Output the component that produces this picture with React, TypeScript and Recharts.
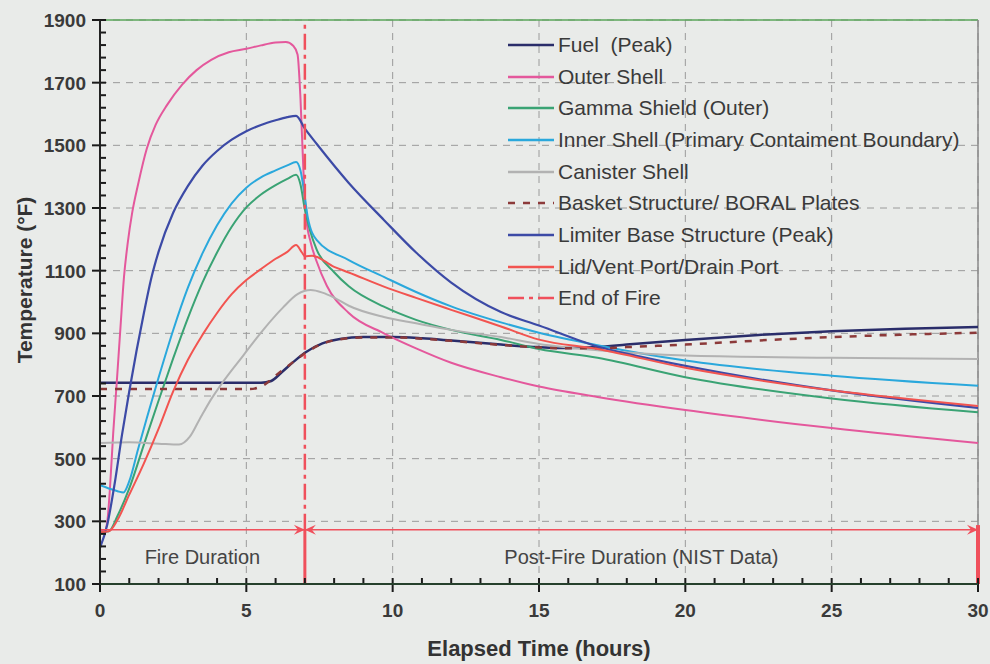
import React from "react";
import {
  LineChart,
  Line,
  XAxis,
  YAxis,
  CartesianGrid,
  Legend,
  ReferenceLine,
  ReferenceArea,
} from "recharts";

const FONT = '"Liberation Sans", Arial, sans-serif';
const RED = "#f0505c";

// [elapsed hours, temperature °F]
const fuelPeak: [number, number][] = [
  [0, 742], [5.5, 742], [5.85, 748], [6.2, 775], [6.6, 808], [7.0, 838], [7.6, 868],
  [8.2, 882], [9, 888], [10, 888], [11, 884], [12, 877], [13.7, 864], [15, 856],
  [16, 853], [17, 856], [18, 864], [20, 879], [22.5, 895], [25, 907], [27.5, 915], [30, 920],
];
const outerShell: [number, number][] = [
  [0, 275], [0.15, 268], [0.25, 300], [0.35, 420], [0.45, 580], [0.57, 740], [0.7, 920],
  [0.82, 1080], [0.95, 1190], [1.1, 1285], [1.3, 1375], [1.6, 1490], [1.9, 1565],
  [2.3, 1630], [2.8, 1693], [3.3, 1740], [3.8, 1773], [4.4, 1797], [5.0, 1808],
  [5.5, 1819], [6.0, 1828], [6.35, 1830], [6.6, 1818], [6.75, 1790], [6.85, 1650],
  [6.95, 1420], [7.05, 1265], [7.2, 1190], [7.4, 1130], [7.75, 1052], [8.5, 965],
  [9.7, 900], [10.8, 852], [12, 806], [13.7, 760], [15, 730], [17, 697], [20, 655],
  [25, 598], [30, 550],
];
const gammaShield: [number, number][] = [
  [0, 265], [0.3, 268], [0.6, 318], [1.0, 405], [1.5, 545], [2.0, 685], [2.5, 820],
  [3.0, 948], [3.5, 1062], [4.0, 1158], [4.5, 1240], [5.0, 1302], [5.5, 1343],
  [6.0, 1373], [6.4, 1393], [6.7, 1406], [6.85, 1375], [7.0, 1295], [7.17, 1230],
  [7.4, 1168], [8.0, 1095], [8.5, 1050], [9.7, 985], [10.8, 943], [12, 911],
  [13.7, 879], [15, 850], [17, 822], [20, 760], [25, 692], [30, 648],
];
const innerShell: [number, number][] = [
  [0, 415], [0.3, 405], [0.6, 396], [0.8, 392], [1.0, 428], [1.3, 530], [1.6, 630],
  [2.0, 758], [2.5, 910], [3.0, 1045], [3.5, 1155], [4.0, 1245], [4.5, 1315],
  [5.0, 1365], [5.5, 1398], [6.0, 1420], [6.4, 1436], [6.7, 1447], [6.85, 1420],
  [7.0, 1335], [7.1, 1270], [7.4, 1198], [8.5, 1134], [9.7, 1080], [10.8, 1032],
  [12, 986], [13.7, 935], [15, 902], [17, 862], [20, 813], [25, 765], [30, 733],
];
const canisterShell: [number, number][] = [
  [0, 550], [1, 552], [2, 548], [2.7, 545], [3.07, 570], [3.4, 625], [3.8, 690],
  [4.2, 745], [4.9, 830], [5.55, 908], [6.25, 982], [6.75, 1025], [7.2, 1038], [7.6, 1030],
  [8.0, 1014], [8.5, 988], [9.7, 952], [10.8, 932], [12, 911], [13.7, 888], [15, 866],
  [17, 846], [20, 829], [25, 822], [30, 818],
];
const basketBoral: [number, number][] = [
  [0, 722], [5.1, 722], [5.6, 735], [6.0, 765], [6.4, 794], [7.0, 836], [7.6, 867],
  [8.2, 881], [9, 887], [10, 887], [11, 883], [12, 876], [13.7, 863], [15, 855],
  [16, 852], [17, 852], [18, 856], [20, 864], [22.5, 877], [25, 888], [27.5, 896], [30, 902],
];
const limiterBase: [number, number][] = [
  [0, 215], [0.25, 290], [0.5, 420], [0.75, 575], [1.0, 715], [1.25, 845], [1.5, 965],
  [1.75, 1075], [2.0, 1160], [2.5, 1285], [3.0, 1370], [3.5, 1435], [4.0, 1482],
  [4.5, 1518], [5.0, 1545], [5.5, 1565], [6.0, 1580], [6.4, 1590], [6.7, 1594],
  [7.0, 1553], [7.4, 1505], [8.5, 1380], [9.7, 1262], [10.8, 1158], [12, 1062],
  [13.7, 968], [15, 925], [17, 858], [18.5, 825], [20, 796], [25, 718], [30, 662],
];
const lidVentDrain: [number, number][] = [
  [0, 265], [0.3, 268], [0.6, 305], [1.0, 385], [1.5, 485], [2.0, 595], [2.5, 715],
  [3.0, 815], [3.5, 895], [4.0, 965], [4.5, 1025], [5.0, 1070], [5.5, 1105], [6.0, 1138],
  [6.4, 1160], [6.7, 1182], [6.9, 1158], [7.0, 1146], [7.25, 1148], [8.0, 1112],
  [8.5, 1094], [9.7, 1049], [10.8, 1013], [12, 975], [13.7, 922], [15, 880], [17, 850],
  [20, 790], [25, 718], [30, 668],
];

const FIRE_END = 7;
const DURATION_ARROW = 273;
const X_TICKS = [0, 5, 10, 15, 20, 25, 30];
const Y_TICKS = [100, 300, 500, 700, 900, 1100, 1300, 1500, 1700, 1900];
// tick marks: every hour and every 40 °F
const X_ALL = Array.from({ length: 31 }, (_, i) => i);
const Y_ALL = Array.from({ length: 46 }, (_, i) => 100 + i * 40);

const series = [
  { name: "Fuel  (Peak)", pts: fuelPeak, color: "#2a2d6a", width: 2.5 },
  { name: "Outer Shell", pts: outerShell, color: "#e4589c", width: 2 },
  { name: "Gamma Shield (Outer)", pts: gammaShield, color: "#3aa374", width: 2 },
  { name: "Inner Shell (Primary Contaiment Boundary)", pts: innerShell, color: "#2aa8dc", width: 2 },
  { name: "Canister Shell", pts: canisterShell, color: "#b2b2b2", width: 2 },
  { name: "Basket Structure/ BORAL Plates", pts: basketBoral, color: "#8c3a3a", width: 2.5, dash: "7 8" },
  { name: "Limiter Base Structure (Peak)", pts: limiterBase, color: "#3c4aa6", width: 2.2 },
  { name: "Lid/Vent Port/Drain Port", pts: lidVentDrain, color: "#f25450", width: 2 },
];

const legendItems = [
  ...series.map((s) => ({ name: s.name, color: s.color, dash: s.dash })),
  { name: "End of Fire", color: RED, dash: "16 5 4 5" },
];

function LegendBox() {
  return (
    <div style={{ fontFamily: FONT, fontSize: 21, color: "#3a3a3a" }}>
      {legendItems.map((it) => (
        <div key={it.name} style={{ display: "flex", alignItems: "center", height: 31.7 }}>
          <svg width={48} height={10}>
            <line x1={0} y1={5} x2={46} y2={5} stroke={it.color} strokeWidth={2.5} strokeDasharray={it.dash} />
          </svg>
          <span style={{ marginLeft: 2, whiteSpace: "pre" }}>{it.name}</span>
        </div>
      ))}
    </div>
  );
}

function YTitle() {
  return (
    <text
      x={24}
      y={280}
      transform="rotate(-90 24 280)"
      textAnchor="middle"
      dominantBaseline="central"
      fontSize={21}
      fontWeight={700}
      fill="#333"
      fontFamily={FONT}
    >
      Temperature (°F)
    </text>
  );
}

const tickText = { fill: "#3a3a3a", fontSize: 19, fontWeight: 700, fontFamily: FONT };
const TICK_STROKE = "#1a1a1a";

function XTick({ x, y, payload }: any) {
  return (
    <text x={x} y={y + 33} textAnchor="middle" {...tickText}>
      {payload.value}
    </text>
  );
}

function YTick({ x, y, payload }: any) {
  return (
    <text x={x - 14} y={y} dy="0.36em" textAnchor="end" {...tickText}>
      {payload.value}
    </text>
  );
}

// tick marks drawn at the axis edges: short inside marks, majors also cross outward
const xMark = (major: boolean) => (p: any) => {
  const yb = Math.max(p.y1, p.y2);
  return <line x1={p.x1} x2={p.x1} y1={yb - 6} y2={major ? yb + 8 : yb} stroke={TICK_STROKE} strokeWidth={2} />;
};
const yMark = (major: boolean) => (p: any) => {
  const xl = Math.min(p.x1, p.x2);
  return <line x1={major ? xl - 8 : xl} x2={xl + 6} y1={p.y1} y2={p.y1} stroke={TICK_STROKE} strokeWidth={2} />;
};

const arrowShape = (startHead: boolean, endHead: boolean) => (p: any) => {
  const { x1, y1, x2, y2 } = p;
  const head = (x: number, y: number, dir: number) => (
    <path
      d={`M${x},${y} L${x - dir * 11},${y - 5} L${x - dir * 7},${y} L${x - dir * 11},${y + 5} Z`}
      fill={RED}
    />
  );
  return (
    <g>
      <line x1={x1} y1={y1} x2={x2} y2={y2} stroke={RED} strokeWidth={1.5} />
      {startHead && head(x1, y1, -1)}
      {endHead && head(x2, y2, 1)}
    </g>
  );
};

export default function App() {
  return (
    <div style={{ position: "absolute", left: 0, top: 0, width: 990, height: 664, background: "#e9ebe9" }}>
      <LineChart width={990} height={664} margin={{ top: 20, right: 12, bottom: 0, left: 0 }}>
        <CartesianGrid stroke="#9a9a9a" strokeDasharray="7 6" />
        <XAxis
          dataKey="t"
          type="number"
          domain={[0, 30]}
          ticks={X_TICKS}
          interval={0}
          height={80}
          tickSize={0}
          tickMargin={0}
          tickLine={false}
          allowDataOverflow
          axisLine={{ stroke: "#26402c", strokeWidth: 2 }}
          tick={<XTick />}
          label={{
            value: "Elapsed Time (hours)",
            position: "insideBottom",
            offset: 8,
            fill: "#333",
            fontSize: 22,
            fontWeight: 700,
            fontFamily: FONT,
          }}
        />
        <YAxis
          type="number"
          domain={[100, 1900]}
          ticks={Y_TICKS}
          interval={0}
          width={100}
          tickSize={0}
          tickMargin={0}
          tickLine={false}
          allowDataOverflow
          axisLine={{ stroke: "#222", strokeWidth: 2 }}
          tick={<YTick />}
          label={<YTitle />}
        />
        <ReferenceLine y={1900} stroke="#5aa65a" strokeWidth={1.5} />
        <ReferenceLine x={30} stroke="#8a8a8a" strokeWidth={1.5} />
        {series.map((s) => (
          <Line
            key={s.name}
            name={s.name}
            data={s.pts.map(([t, v]) => ({ t, v }))}
            dataKey="v"
            type="monotone"
            stroke={s.color}
            strokeWidth={s.width}
            strokeDasharray={s.dash}
            dot={false}
            activeDot={false}
            isAnimationActive={false}
          />
        ))}
        <ReferenceLine
          segment={[{ x: FIRE_END, y: DURATION_ARROW }, { x: FIRE_END, y: 1900 }]}
          stroke={RED}
          strokeWidth={2.5}
          strokeDasharray="16 5 4 5"
        />
        <ReferenceLine
          segment={[{ x: FIRE_END, y: 100 }, { x: FIRE_END, y: DURATION_ARROW }]}
          stroke={RED}
          strokeWidth={3}
        />
        <ReferenceLine
          segment={[{ x: 30, y: 100 }, { x: 30, y: 288 }]}
          stroke={RED}
          strokeWidth={4}
        />
        <ReferenceLine
          segment={[{ x: 0, y: DURATION_ARROW }, { x: FIRE_END, y: DURATION_ARROW }]}
          shape={arrowShape(false, true)}
        />
        <ReferenceLine
          segment={[{ x: FIRE_END, y: DURATION_ARROW }, { x: 30, y: DURATION_ARROW }]}
          shape={arrowShape(true, true)}
        />
        {X_ALL.map((v) => (
          <ReferenceLine key={`xm${v}`} x={v} ifOverflow="visible" shape={xMark(X_TICKS.includes(v))} />
        ))}
        {Y_ALL.map((v) => (
          <ReferenceLine key={`ym${v}`} y={v} ifOverflow="visible" shape={yMark(Y_TICKS.includes(v))} />
        ))}
        <ReferenceArea
          x1={0}
          x2={FIRE_END}
          y1={100}
          y2={DURATION_ARROW}
          fillOpacity={0}
          strokeOpacity={0}
          label={{ value: "Fire Duration", position: "center", fill: "#444", fontSize: 20, fontFamily: FONT }}
        />
        <ReferenceArea
          x1={FIRE_END}
          x2={30}
          y1={100}
          y2={DURATION_ARROW}
          fillOpacity={0}
          strokeOpacity={0}
          label={{
            value: "Post-Fire Duration (NIST Data)",
            position: "center",
            fill: "#444",
            fontSize: 20,
            fontFamily: FONT,
          }}
        />
        <Legend
          layout="vertical"
          align="center"
          verticalAlign="middle"
          wrapperStyle={{ left: 508, top: 29, width: 470 }}
          content={() => <LegendBox />}
        />
      </LineChart>
    </div>
  );
}
